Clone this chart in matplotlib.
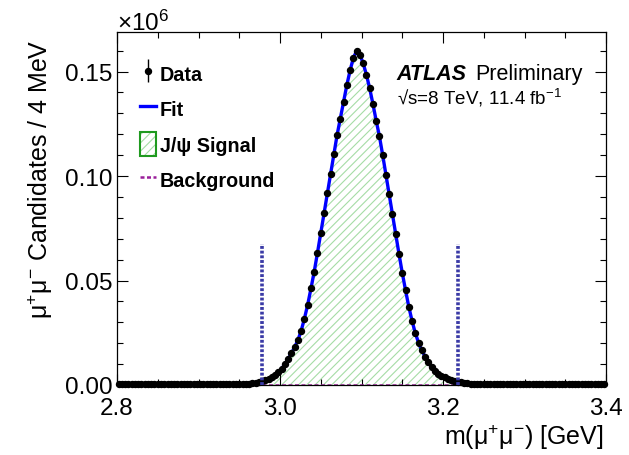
import numpy as np
import matplotlib.pyplot as plt
from matplotlib.patches import Patch
from matplotlib.ticker import MultipleLocator, FormatStrFormatter
from matplotlib.legend_handler import HandlerErrorbar, HandlerTuple

plt.rcParams['font.family'] = ['Liberation Sans', 'DejaVu Sans']
plt.rcParams['mathtext.fontset'] = 'custom'
plt.rcParams['mathtext.rm'] = 'Liberation Sans'
plt.rcParams['mathtext.it'] = 'Liberation Sans:italic'
plt.rcParams['mathtext.bf'] = 'Liberation Sans:bold'
plt.rcParams['hatch.linewidth'] = 0.8

# 4 MeV bins from 2.8 to 3.4 GeV, candidates in units of 10^6
mass_lo, mass_hi, bin_width = 2.8, 3.4, 0.004
counts = [
    0.0003, 0.0003, 0.0003, 0.0003, 0.0003, 0.0003, 0.0003, 0.0003, 0.0003, 0.0003,
    0.0003, 0.0003, 0.0003, 0.0003, 0.0003, 0.0003, 0.0003, 0.0003, 0.0003, 0.0003,
    0.0003, 0.0003, 0.0003, 0.0003, 0.0003, 0.0003, 0.0003, 0.0003, 0.0003, 0.0003,
    0.0003, 0.0003, 0.0003, 0.0004, 0.0004, 0.0004, 0.0004, 0.0004, 0.0005, 0.0005,
    0.0006, 0.0008, 0.0010, 0.0014, 0.0018, 0.0023, 0.0030, 0.0039, 0.0049, 0.0061,
    0.0078, 0.0099, 0.0124, 0.0152, 0.0181, 0.0215, 0.0260, 0.0318, 0.0385, 0.0462,
    0.0543, 0.0633, 0.0727, 0.0822, 0.0917, 0.1010, 0.1105, 0.1195, 0.1275, 0.1355,
    0.1435, 0.1505, 0.1565, 0.1598, 0.1580, 0.1540, 0.1485, 0.1420, 0.1345, 0.1265,
    0.1190, 0.1100, 0.1005, 0.0912, 0.0817, 0.0722, 0.0627, 0.0537, 0.0454, 0.0375,
    0.0307, 0.0249, 0.0202, 0.0166, 0.0136, 0.0108, 0.0085, 0.0066, 0.0051, 0.0045,
    0.0036, 0.0029, 0.0024, 0.0019, 0.0015, 0.0012, 0.0010, 0.0008, 0.0007, 0.0006,
    0.0005, 0.0004, 0.0004, 0.0004, 0.0004, 0.0004, 0.0003, 0.0003, 0.0003, 0.0003,
    0.0003, 0.0003, 0.0003, 0.0003, 0.0003, 0.0003, 0.0003, 0.0003, 0.0003, 0.0003,
    0.0003, 0.0003, 0.0003, 0.0003, 0.0003, 0.0003, 0.0003, 0.0003, 0.0003, 0.0003,
    0.0003, 0.0003, 0.0003, 0.0003, 0.0003, 0.0003, 0.0003, 0.0003, 0.0003, 0.0003,
]
background_level = 0.0001
window_edges = [2.978, 3.218]
window_height = 0.0675

centres = mass_lo + bin_width * (np.arange(len(counts)) + 0.5)
counts = np.array(counts)
errors = np.sqrt(counts * 1e6) / 1e6

fig = plt.figure(figsize=(6.29, 4.56), dpi=100)
ax = fig.add_axes([117 / 629, 1 - 386 / 456, (606 - 117) / 629, (386 - 33) / 456])

# signal hatch, background, fit, data
ax.fill_between(centres, background_level, counts, facecolor='none',
                edgecolor='#a6dca6', hatch='////', linewidth=0, zorder=1)
bkg_line, = ax.plot(centres, np.full(len(centres), background_level),
                    color='#9a1f9a', lw=1.8, ls=(0, (1.6, 1.0)), zorder=2)
fit_line, = ax.plot(centres, counts, color='#0000ff', lw=2.4, zorder=3,
                    clip_on=False)
data = ax.errorbar(centres, counts, yerr=errors, fmt='o', color='black',
                   ms=4.3, elinewidth=1, capsize=0, zorder=4, clip_on=False)
ax.vlines(window_edges, 0, window_height, colors='#3a3aa6',
          linestyles=(0, (0.8, 0.5)), lw=2.6, zorder=5)

ax.set_xlim(mass_lo, mass_hi)
ax.set_ylim(0, 0.1689)
ax.xaxis.set_major_locator(MultipleLocator(0.2))
ax.xaxis.set_minor_locator(MultipleLocator(0.05))
ax.yaxis.set_major_locator(MultipleLocator(0.05))
ax.yaxis.set_minor_locator(MultipleLocator(0.01))
ax.xaxis.set_major_formatter(FormatStrFormatter('%.1f'))
ax.yaxis.set_major_formatter(FormatStrFormatter('%.2f'))
ax.tick_params(which='both', direction='in', top=True, right=True,
               width=0.8, labelsize=17.5)
ax.tick_params(which='major', length=8)
ax.tick_params(which='minor', length=4.5)
ax.tick_params(axis='x', pad=9)
ax.tick_params(axis='y', pad=3)
for s in ax.spines.values():
    s.set_linewidth(0.9)

fig.text(117 / 629, 1 - 31 / 456, '×10$^{6}$', fontsize=17.5, va='baseline')
fig.text(40 / 629, 1 - 39 / 456, 'μ$^{+}$μ$^{-}$ Candidates / 4 MeV',
         fontsize=18, rotation=90, ha='center', va='top')
fig.text(604 / 629, 1 - 437 / 456, 'm(μ$^{+}$μ$^{-}$) [GeV]',
         fontsize=18, ha='right', va='center')

# ATLAS label
ax.text(0.571, 0.868, 'ATLAS', transform=ax.transAxes, fontsize=15.5,
        fontweight='bold', fontstyle='italic', va='baseline')
ax.text(0.733, 0.868, 'Preliminary', transform=ax.transAxes, fontsize=15.5,
        va='baseline')
ax.text(0.573, 0.797, '√s=8 TeV, 11.4 fb$^{-1}$', transform=ax.transAxes,
        fontsize=13.5, va='baseline')

# legend
sig_hatch = Patch(facecolor='white', edgecolor='#a6dca6', hatch='////', lw=0)
sig_edge = Patch(facecolor='none', edgecolor='#1f9a1f', lw=1.5)
ax.legend([data, fit_line, (sig_hatch, sig_edge), bkg_line],
          ['Data', 'Fit', 'J/ψ Signal', 'Background'],
          loc='upper left', bbox_to_anchor=(0.047, 0.917), frameon=False,
          prop=dict(weight='bold', size=14.2), handlelength=0.8,
          handleheight=1.5, handletextpad=0.2, labelspacing=0.58,
          borderpad=0, borderaxespad=0, numpoints=1,
          handler_map={data: HandlerErrorbar(xerr_size=0.3, yerr_size=0.6),
                       tuple: HandlerTuple(ndivide=1)})

fig.savefig('out.png', dpi=100)
